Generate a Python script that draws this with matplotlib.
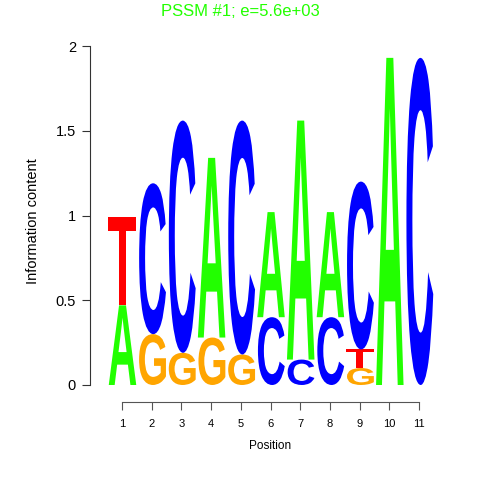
import matplotlib
matplotlib.use('Agg')
import matplotlib.pyplot as plt
from matplotlib.textpath import TextPath
from matplotlib.font_manager import FontProperties
from matplotlib.patches import PathPatch
from matplotlib.transforms import Affine2D

plt.rcParams['font.family'] = ['Liberation Sans', 'DejaVu Sans']

# information content per letter, per position
positions = list(range(1, 12))
letters_A = [0.47, 0.00, 0.00, 1.06, 0.00, 0.62, 1.41, 0.62, 0.00, 1.93, 0.00]
letters_C = [0.00, 0.89, 1.37, 0.00, 1.38, 0.40, 0.15, 0.40, 0.99, 0.00, 1.93]
letters_G = [0.00, 0.30, 0.19, 0.28, 0.18, 0.00, 0.00, 0.00, 0.10, 0.00, 0.00]
letters_T = [0.52, 0.00, 0.00, 0.00, 0.00, 0.00, 0.00, 0.00, 0.11, 0.00, 0.00]

colors = {'A': '#22FF00', 'C': '#0000FF', 'G': '#FFA500', 'T': '#FF0000'}
fp = FontProperties(family='Liberation Sans', weight='bold')

def letter_patch(ch, x, y0, h, w=0.96):
    tp = TextPath((0, 0), ch, size=1, prop=fp)
    v = tp.vertices
    xmin, ymin = v.min(axis=0)
    xmax, ymax = v.max(axis=0)
    tr = Affine2D().translate(-xmin, -ymin).scale(w / (xmax - xmin), h / (ymax - ymin)).translate(x - w / 2, y0)
    return PathPatch(tr.transform_path(tp), facecolor=colors[ch], edgecolor='none')

fig = plt.figure(figsize=(4.8, 4.8), dpi=100)
# axes spans pixel x 90..450, y 40..402
ax = fig.add_axes([90 / 480, 78 / 480, 360 / 480, 362 / 480])
px_per_pos = 29.7
px_per_unit = 169.5
ax.set_xlim(1 - 32 / px_per_pos, 1 + 328 / px_per_pos)
ax.set_ylim(-17 / px_per_unit, 345 / px_per_unit)

for i, p in enumerate(positions):
    col = {'A': letters_A[i], 'C': letters_C[i], 'G': letters_G[i], 'T': letters_T[i]}
    y0 = 0.0
    for ch, h in sorted(col.items(), key=lambda kv: kv[1]):
        if h <= 0:
            continue
        ax.add_patch(letter_patch(ch, p, y0, h))
        y0 += h

for s in ['top', 'right']:
    ax.spines[s].set_visible(False)
ax.spines['left'].set_bounds(0, 2)
ax.spines['bottom'].set_bounds(1, 11)
ax.spines['bottom'].set_color('#555555')
ax.spines['left'].set_color('#333333')
ax.set_yticks([0, 0.5, 1, 1.5, 2])
ax.set_yticklabels(['0', '0.5', '1', '1.5', '2'])
ax.set_xticks(positions)
ax.set_xticklabels([str(p) for p in positions])
ax.tick_params(axis='y', length=6, width=0.8, color='#333333', labelsize=10.5, pad=4)
ax.tick_params(axis='x', length=6, width=0.8, color='#555555', labelsize=8, pad=6)
ax.set_ylabel('Information content', fontsize=10.5, labelpad=11)
ax.set_xlabel('Position', fontsize=8.5, labelpad=8)
fig.text(0.5, 1 - 11 / 480, 'PSSM #1; e=5.6e+03', color='#22FF00', fontsize=12,
         ha='center', va='center')

plt.savefig('out.png', dpi=100)
plt.close()
